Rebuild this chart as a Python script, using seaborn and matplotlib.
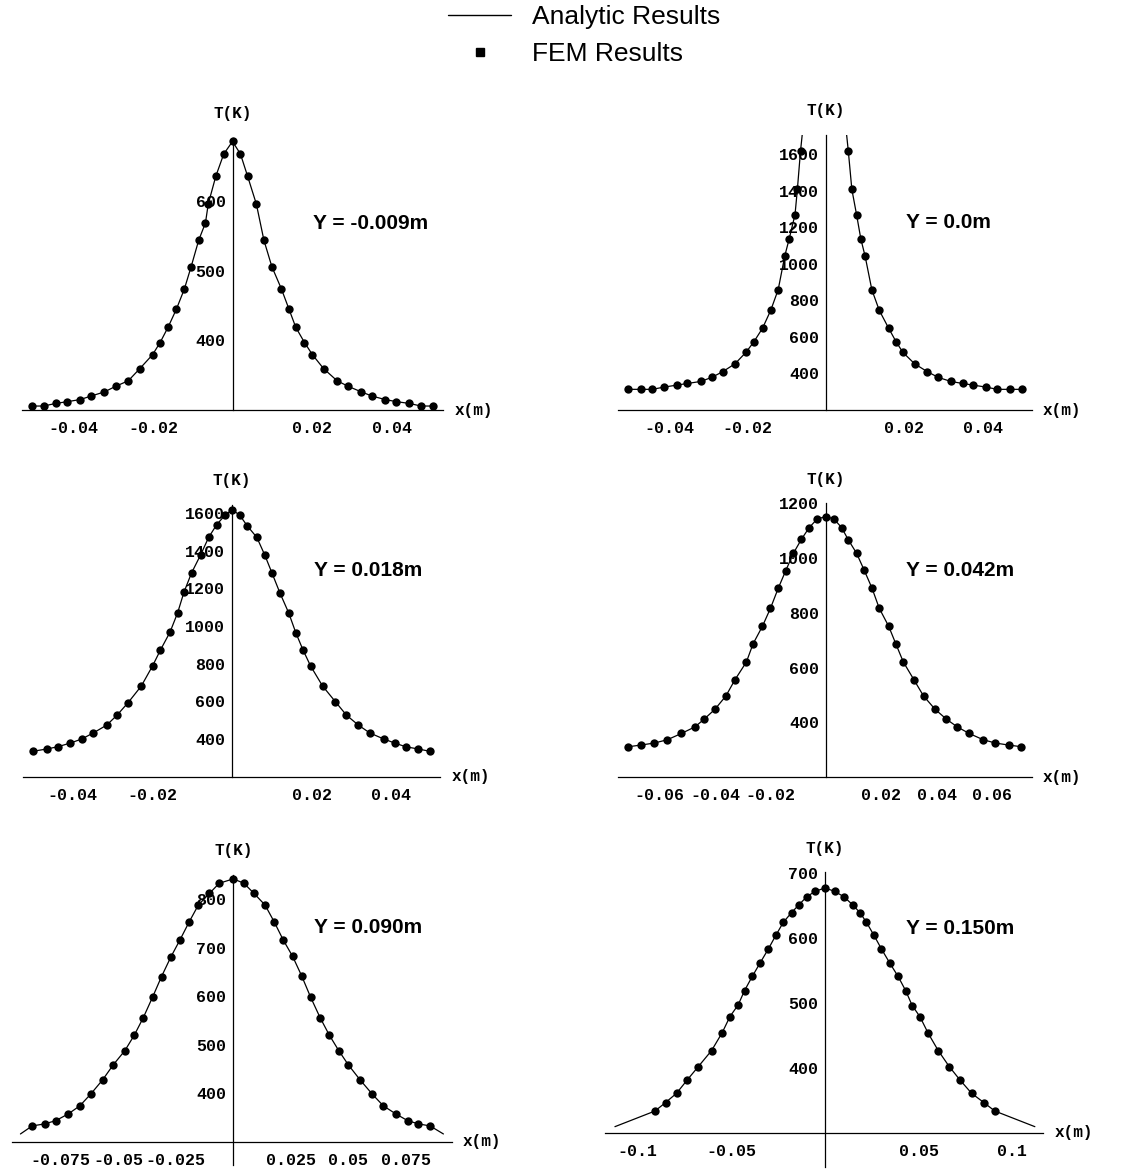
import matplotlib
matplotlib.use("Agg")
import matplotlib.pyplot as plt
from matplotlib.lines import Line2D
from matplotlib.ticker import MultipleLocator
import seaborn as sns

sns.set_style("white")
plt.rcParams["font.family"] = ["Liberation Mono", "DejaVu Sans"]
plt.rcParams["text.color"] = "black"
plt.rcParams["xtick.color"] = "black"
plt.rcParams["ytick.color"] = "black"

# panel titles
panel_labels = ["Y = -0.009m", "Y = 0.0m", "Y = 0.018m", "Y = 0.042m", "Y = 0.090m", "Y = 0.150m"]

# FEM results (x in m, T in K)
x_fem_1 = [-0.0503, -0.0475, -0.0444, -0.0415, -0.0383, -0.0356, -0.0322, -0.0294, -0.0262, -0.0233,
           -0.0201, -0.0182, -0.0162, -0.0141, -0.0121, -0.0104, -0.0085, -0.0068, -0.0061, -0.0042,
           -0.0022, 0.0, 0.0020, 0.0038, 0.0060, 0.0079, 0.0099, 0.0123, 0.0142, 0.0159, 0.0181,
           0.0201, 0.0229, 0.0263, 0.0291, 0.0324, 0.0351, 0.0384, 0.0412, 0.0444, 0.0474, 0.0504]
t_fem_1 = [305.7, 305.7, 309.5, 312, 315, 320, 326, 334, 342, 359.5, 379.5, 397, 419, 445, 474, 506,
           544, 569, 596, 636, 668, 686, 668, 636, 596, 544, 506, 474, 445, 419, 397, 379.5, 359.5,
           342, 334, 326, 320, 315, 312, 309.5, 305.7, 305.7]

x_fem_2 = [-0.0505, -0.0472, -0.0443, -0.0414, -0.0381, -0.0354, -0.0320, -0.0292, -0.0264, -0.0232,
           -0.0204, -0.0184, -0.0162, -0.0141, -0.0122, -0.0105, -0.0094, -0.0079, -0.0073, -0.0065,
           0.0057, 0.0066, 0.0078, 0.0089, 0.0100, 0.0117, 0.0136, 0.0160, 0.0179, 0.0196, 0.0226,
           0.0259, 0.0287, 0.0319, 0.0349, 0.0376, 0.0409, 0.0437, 0.0470, 0.0500]
t_fem_2 = [313, 313, 313, 325, 336, 345, 356, 378, 409, 453, 516, 573, 647, 745, 858, 1044, 1135,
           1269, 1407, 1616, 1616, 1407, 1269, 1135, 1040, 858, 745, 647, 573, 516, 453, 409, 378,
           356, 345, 336, 325, 313, 313, 313]

x_fem_3 = [-0.0500, -0.0466, -0.0438, -0.0406, -0.0378, -0.0349, -0.0315, -0.0289, -0.0261, -0.0228,
           -0.0200, -0.0180, -0.0156, -0.0137, -0.0121, -0.0102, -0.0079, -0.0059, -0.0039, -0.0018,
           0.0, 0.0019, 0.0038, 0.0062, 0.0082, 0.0100, 0.0120, 0.0142, 0.0160, 0.0178, 0.0197,
           0.0227, 0.0259, 0.0287, 0.0317, 0.0346, 0.0381, 0.0408, 0.0436, 0.0468, 0.0496]
t_fem_3 = [335, 347, 359, 379, 400, 432, 474, 527, 594, 682, 788, 873, 968, 1070, 1180, 1282, 1379,
           1471, 1538, 1589, 1618, 1589, 1532, 1471, 1377, 1282, 1176, 1070, 964, 873, 788, 682, 599,
           527, 474, 432, 400, 379, 359, 347, 335]

x_fem_4 = [-0.0714, -0.0669, -0.0620, -0.0573, -0.0522, -0.0473, -0.0440, -0.0401, -0.0361, -0.0329,
           -0.0287, -0.0263, -0.0229, -0.0200, -0.0172, -0.0145, -0.0117, -0.0088, -0.0060, -0.0031,
           0.0, 0.0029, 0.0057, 0.0081, 0.0111, 0.0139, 0.0167, 0.0193, 0.0227, 0.0253, 0.0280,
           0.0319, 0.0353, 0.0395, 0.0436, 0.0475, 0.0518, 0.0569, 0.0613, 0.0661, 0.0707]
t_fem_4 = [311.5, 317.6, 325, 337, 360, 384, 412, 448, 497, 555, 621, 687, 751.5, 817, 890, 954,
           1018, 1069, 1111.5, 1143, 1151.5, 1143, 1111.5, 1067, 1018, 955, 890, 817, 751.5, 687,
           621, 555, 497, 448, 412, 384, 360, 337, 325, 317.6, 311.5]

x_fem_5 = [-0.0874, -0.0819, -0.0771, -0.0717, -0.0667, -0.0620, -0.0568, -0.0522, -0.0471, -0.0430,
           -0.0391, -0.0351, -0.0312, -0.0272, -0.0232, -0.0191, -0.0152, -0.0104, -0.0061, 0.0,
           0.0046, 0.0090, 0.0138, 0.0177, 0.0217, 0.0258, 0.0297, 0.0336, 0.0377, 0.0417, 0.0458,
           0.0500, 0.0551, 0.0604, 0.0652, 0.0706, 0.0757, 0.0804, 0.0855]
t_fem_5 = [332.6, 336.8, 343.6, 357.4, 374, 398, 427.5, 458.4, 488, 520, 556, 598, 640.5, 680.4,
           716, 754, 788, 812, 833, 842, 833, 812, 788, 754, 716, 682, 642, 598, 556, 520, 488,
           458.4, 427.5, 398, 374, 357.4, 343.6, 336.8, 332.6]

x_fem_6 = [-0.0907, -0.0851, -0.0792, -0.0735, -0.0676, -0.0605, -0.0548, -0.0507, -0.0463, -0.0429,
           -0.0388, -0.0347, -0.0302, -0.0262, -0.0222, -0.0178, -0.0139, -0.0098, -0.0053, 0.0,
           0.0053, 0.0103, 0.0148, 0.0187, 0.0222, 0.0262, 0.0302, 0.0347, 0.0391, 0.0431, 0.0466,
           0.0507, 0.0552, 0.0605, 0.0664, 0.0721, 0.0783, 0.0849, 0.0907]
t_fem_6 = [333.7, 346.6, 361, 381.5, 402, 426.7, 454.4, 479, 497, 519, 540.7, 561, 583, 604, 624,
           639, 651, 663, 671.7, 676.8, 671.7, 663, 651, 639, 624, 604, 583, 561, 540.7, 519, 496,
           479, 453, 426.7, 402, 381.5, 361, 346.6, 333.7]

# extra analytic curve points beyond the FEM points
x_curve_extra_2 = [-0.0058, 0.0050]
t_curve_extra_2 = [1760, 1760]
x_curve_extra_5 = [-0.0925, 0.0913]
t_curve_extra_5 = [316, 316]
x_curve_extra_6 = [-0.1121, 0.1121]
t_curve_extra_6 = [309.6, 309.6]

# ticks
xticks_1 = [-0.04, -0.02, 0.02, 0.04]
xticks_4 = [-0.06, -0.04, -0.02, 0.02, 0.04, 0.06]
xticks_5 = [-0.075, -0.05, -0.025, 0.025, 0.05, 0.075]
xticks_6 = [-0.1, -0.05, 0.05, 0.1]
yticks_1 = [400, 500, 600]
yticks_2 = [400, 600, 800, 1000, 1200, 1400, 1600]
yticks_4 = [400, 600, 800, 1000, 1200]
yticks_5 = [400, 500, 600, 700, 800]
yticks_6 = [400, 500, 600, 700]

W, H = 1145, 1169
fig = plt.figure(figsize=(W / 100, H / 100), dpi=100)

panels = [
    # box px (left, right, top, bottom), xlim, ylim, axis origin, minor x, minor y
    dict(x=x_fem_1, t=t_fem_1, cx=[], ct=[], xt=xticks_1, yt=yticks_1,
         box=(21.7, 443.3, 138, 410), xlim=(-0.053, 0.053), ylim=(300, 691), org=300, mx=0.005, my=20,
         lab=(370.8, 223.3)),
    dict(x=x_fem_2, t=t_fem_2, cx=x_curve_extra_2, ct=t_curve_extra_2, xt=xticks_1, yt=yticks_2,
         box=(618.3, 1031.7, 135, 410), xlim=(-0.053, 0.0525), ylim=(200, 1704), org=200, mx=0.005, my=50,
         lab=(948.8, 222.7)),
    dict(x=x_fem_3, t=t_fem_3, cx=[], ct=[], xt=xticks_1, yt=yticks_2,
         box=(22.7, 440, 505, 776.7), xlim=(-0.0526, 0.0522), ylim=(200, 1643), org=200, mx=0.005, my=50,
         lab=(368.3, 570)),
    dict(x=x_fem_4, t=t_fem_4, cx=[], ct=[], xt=xticks_4, yt=yticks_4,
         box=(618.3, 1031.7, 503.3, 777.3), xlim=(-0.075, 0.0744), ylim=(200, 1200), org=200, mx=0.005, my=50,
         lab=(960.5, 570.7)),
    dict(x=x_fem_5, t=t_fem_5, cx=x_curve_extra_5, ct=t_curve_extra_5, xt=xticks_5, yt=yticks_5,
         box=(11.7, 451.7, 875, 1165), xlim=(-0.0963, 0.0949), ylim=(252, 850), org=300, mx=0.005, my=20,
         lab=(368.3, 927.3)),
    dict(x=x_fem_6, t=t_fem_6, cx=x_curve_extra_6, ct=t_curve_extra_6, xt=xticks_6, yt=yticks_6,
         box=(605, 1043.3, 872.3, 1166.7), xlim=(-0.1174, 0.1166), ylim=(248, 701), org=300, mx=0.01, my=20,
         lab=(960.5, 928.3)),
]

for p, label in zip(panels, panel_labels):
    l, r, t, b = p["box"]
    ax = fig.add_axes([l / W, 1 - b / H, (r - l) / W, (b - t) / H])
    ax.set_facecolor("white")

    sns.lineplot(x=p["x"] + p["cx"], y=p["t"] + p["ct"], ax=ax, color="black", lw=0.9,
                 estimator=None, sort=True, legend=False)
    sns.scatterplot(x=p["x"], y=p["t"], ax=ax, color="black", s=36, linewidth=0,
                    legend=False, clip_on=False, zorder=3)

    ax.set_xlim(*p["xlim"])
    ax.set_ylim(*p["ylim"])
    ax.set_xlabel("")
    ax.set_ylabel("")

    for side in ["top", "right"]:
        ax.spines[side].set_visible(False)
    ax.spines["left"].set_position(("data", 0))
    ax.spines["bottom"].set_position(("data", p["org"]))
    for side in ["left", "bottom"]:
        ax.spines[side].set_linewidth(0.9)
        ax.spines[side].set_color("black")

    ax.set_xticks(p["xt"], [f"{v:g}" for v in p["xt"]])
    ax.set_yticks(p["yt"], [f"{v:g}" for v in p["yt"]])
    ax.xaxis.set_minor_locator(MultipleLocator(p["mx"]))
    ax.yaxis.set_minor_locator(MultipleLocator(p["my"]))
    ax.tick_params(which="major", direction="in", length=3.5, width=0.8, color="black",
                   labelsize=12, labelcolor="black")
    ax.tick_params(axis="x", which="major", pad=8)
    ax.tick_params(axis="y", which="major", pad=5)
    ax.tick_params(which="minor", direction="in", length=1.8, width=0.7, color="black")
    for lab in ax.get_xticklabels() + ax.get_yticklabels():
        lab.set_fontweight("bold")

    ax.annotate("T(K)", xy=(0, 1), xycoords=("data", "axes fraction"), xytext=(0, 12),
                textcoords="offset points", ha="center", va="bottom", fontsize=11.5,
                fontweight="bold", color="black")
    ax.annotate("x(m)", xy=(1, p["org"]), xycoords=("axes fraction", "data"), xytext=(8, 0),
                textcoords="offset points", ha="left", va="center", fontsize=11.5,
                fontweight="bold", color="black")

    fig.text(p["lab"][0] / W, 1 - p["lab"][1] / H, label, ha="center", va="center",
             fontsize=15, fontweight="bold", family="Liberation Sans", color="black")

handles = [Line2D([], [], color="black", lw=1.0),
           Line2D([], [], color="black", marker="s", ls="none", markersize=6)]
fig.legend(handles=handles, labels=["Analytic Results", "FEM Results"], loc="upper left",
           bbox_to_anchor=(448 / W, 1 - 5 / H), frameon=False,
           prop={"family": "Liberation Sans", "size": 19}, handlelength=2.4,
           handletextpad=0.8, labelspacing=0.5, borderpad=0, borderaxespad=0,
           labelcolor="black")

fig.savefig("out.png", dpi=100)
